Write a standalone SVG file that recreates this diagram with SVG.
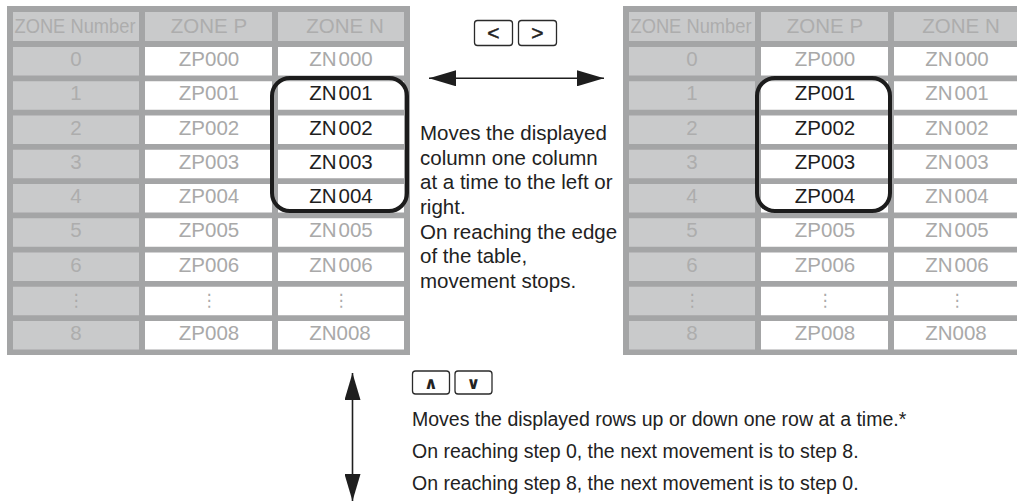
<svg xmlns="http://www.w3.org/2000/svg" width="1017" height="502" viewBox="0 0 1017 502">
<style>
  text { font-family: "Liberation Sans", Arial, sans-serif; }
  .frame { fill: #a4a5a6; }
  .cg { fill: #c9cacb; }
  .cw { fill: #ffffff; }
  .t { font-size: 20.5px; text-anchor: middle; fill: #a9a9a9; }
  .tg { font-size: 20.5px; text-anchor: middle; fill: #adadad; }
  .tk { font-size: 20.5px; text-anchor: middle; fill: #1e1e1e; }
  .dots { font-family: "DejaVu Sans", sans-serif; font-size: 17px; text-anchor: middle; fill: #a9a9a9; }
  .hl { fill: none; stroke: #1c1c1c; stroke-width: 4; }
  .key { fill: #ffffff; stroke: #2a2a2a; stroke-width: 1.3; }
  .kg { font-size: 21px; text-anchor: middle; fill: #222; stroke: #222; stroke-width: 0.5; }
  .kg2 { font-family: "DejaVu Sans", sans-serif; font-size: 17px; font-weight: bold; text-anchor: middle; fill: #222; }
  .note { font-size: 20.5px; fill: #222; }
  .note2 { font-size: 19.5px; fill: #222; }
  .arrow { fill: none; stroke: #1e1e1e; stroke-width: 1.6; }
</style>
<defs>
  <marker id="head" viewBox="0 0 27 16" refX="27" refY="8" markerWidth="27" markerHeight="16" markerUnits="userSpaceOnUse" orient="auto-start-reverse">
    <path d="M0,0 L27,8 L0,16 Z" fill="#1e1e1e"/>
  </marker>
  <g id="grid">
    <rect class="frame" x="7" y="6" width="403" height="349"/>
    <rect class="cg" x="13" y="12" width="126" height="29"/>
    <rect class="cg" x="145" y="12" width="127" height="29"/>
    <rect class="cg" x="278" y="12" width="126" height="29"/>
    <rect class="cg" x="13" y="47" width="126" height="28.5"/><rect class="cw" x="145" y="47" width="127" height="28.5"/><rect class="cw" x="278" y="47" width="126" height="28.5"/>
    <rect class="cg" x="13" y="81.25" width="126" height="28.5"/><rect class="cw" x="145" y="81.25" width="127" height="28.5"/><rect class="cw" x="278" y="81.25" width="126" height="28.5"/>
    <rect class="cg" x="13" y="115.5" width="126" height="28.5"/><rect class="cw" x="145" y="115.5" width="127" height="28.5"/><rect class="cw" x="278" y="115.5" width="126" height="28.5"/>
    <rect class="cg" x="13" y="149.75" width="126" height="28.5"/><rect class="cw" x="145" y="149.75" width="127" height="28.5"/><rect class="cw" x="278" y="149.75" width="126" height="28.5"/>
    <rect class="cg" x="13" y="184" width="126" height="28.5"/><rect class="cw" x="145" y="184" width="127" height="28.5"/><rect class="cw" x="278" y="184" width="126" height="28.5"/>
    <rect class="cg" x="13" y="218.25" width="126" height="28.5"/><rect class="cw" x="145" y="218.25" width="127" height="28.5"/><rect class="cw" x="278" y="218.25" width="126" height="28.5"/>
    <rect class="cg" x="13" y="252.5" width="126" height="28.5"/><rect class="cw" x="145" y="252.5" width="127" height="28.5"/><rect class="cw" x="278" y="252.5" width="126" height="28.5"/>
    <rect class="cg" x="13" y="286.75" width="126" height="28.5"/><rect class="cw" x="145" y="286.75" width="127" height="28.5"/><rect class="cw" x="278" y="286.75" width="126" height="28.5"/>
    <rect class="cg" x="13" y="321" width="126" height="28.5"/><rect class="cw" x="145" y="321" width="127" height="28.5"/><rect class="cw" x="278" y="321" width="126" height="28.5"/>
    <text class="tg" x="75" y="32.5" textLength="121" lengthAdjust="spacingAndGlyphs">ZONE Number</text>
    <text class="tg" x="209" y="32.5">ZONE P</text>
    <text class="tg" x="345" y="32.5">ZONE N</text>
    <text class="tg" x="76" y="66">0</text>
    <text class="tg" x="76" y="100.25">1</text>
    <text class="tg" x="76" y="134.5">2</text>
    <text class="tg" x="76" y="168.75">3</text>
    <text class="tg" x="76" y="203">4</text>
    <text class="tg" x="76" y="237.25">5</text>
    <text class="tg" x="76" y="271.5">6</text>
    <text class="dots" x="76" y="306">⋮</text>
    <text class="dots" x="209" y="306">⋮</text>
    <text class="dots" x="341" y="306">⋮</text>
    <text class="tg" x="76" y="340">8</text>
    <text class="t" x="209" y="66">ZP000</text>
    <text class="t" x="341" y="66">ZN<tspan dx="2">000</tspan></text>
    <text class="t" x="209" y="237.25">ZP005</text>
    <text class="t" x="341" y="237.25">ZN<tspan dx="2">005</tspan></text>
    <text class="t" x="209" y="271.5">ZP006</text>
    <text class="t" x="341" y="271.5">ZN<tspan dx="2">006</tspan></text>
    <text class="t" x="209" y="340">ZP008</text>
    <text class="t" x="340" y="340">ZN008</text>
  </g>
</defs>

<g id="table-left">
  <use href="#grid"/>
  <text class="t" x="209" y="100.25">ZP001</text>
  <text class="t" x="209" y="134.5">ZP002</text>
  <text class="t" x="209" y="168.75">ZP003</text>
  <text class="t" x="209" y="203">ZP004</text>
  <text class="tk" x="341" y="100.25">ZN<tspan dx="2">001</tspan></text>
  <text class="tk" x="341" y="134.5">ZN<tspan dx="2">002</tspan></text>
  <text class="tk" x="341" y="168.75">ZN<tspan dx="2">003</tspan></text>
  <text class="tk" x="341" y="203">ZN<tspan dx="2">004</tspan></text>
  <rect id="highlight-left" class="hl" x="272" y="78" width="135" height="133" rx="18"/>
</g>

<g id="table-right" transform="translate(616,0)">
  <use href="#grid"/>
  <text class="tk" x="209" y="100.25">ZP001</text>
  <text class="tk" x="209" y="134.5">ZP002</text>
  <text class="tk" x="209" y="168.75">ZP003</text>
  <text class="tk" x="209" y="203">ZP004</text>
  <text class="t" x="341" y="100.25">ZN<tspan dx="2">001</tspan></text>
  <text class="t" x="341" y="134.5">ZN<tspan dx="2">002</tspan></text>
  <text class="t" x="341" y="168.75">ZN<tspan dx="2">003</tspan></text>
  <text class="t" x="341" y="203">ZN<tspan dx="2">004</tspan></text>
  <rect id="highlight-right" class="hl" x="141" y="78" width="133" height="133" rx="18"/>
</g>

<g id="keys-left-right">
  <rect class="key" x="474.5" y="20.5" width="38" height="25" rx="3"/>
  <text class="kg" x="493.5" y="40">&lt;</text>
  <rect class="key" x="518.5" y="20.5" width="38" height="25" rx="3"/>
  <text class="kg" x="537.5" y="40">&gt;</text>
</g>

<g id="keys-up-down">
  <rect class="key" x="412.5" y="371" width="37" height="23" rx="3"/>
  <text class="kg2" x="431" y="389">∧</text>
  <rect class="key" x="455" y="371" width="37" height="23" rx="3"/>
  <text class="kg2" x="473.5" y="389">∨</text>
</g>

<g id="note-columns">
  <text class="note" x="420" y="140">Moves the displayed</text>
  <text class="note" x="420" y="164.7">column one column</text>
  <text class="note" x="420" y="189.4">at a time to the left or</text>
  <text class="note" x="420" y="214">right.</text>
  <text class="note" x="420" y="238.7">On reaching the edge</text>
  <text class="note" x="420" y="263.4">of the table,</text>
  <text class="note" x="420" y="288">movement stops.</text>
</g>

<g id="note-rows">
  <text class="note2" x="412" y="426">Moves the displayed rows up or down one row at a time.*</text>
  <text class="note2" x="412" y="458">On reaching step 0, the next movement is to step 8.</text>
  <text class="note2" x="412" y="490">On reaching step 8, the next movement is to step 0.</text>
</g>

<g id="connectors">
  <path class="arrow" d="M429,78.3 H604" marker-start="url(#head)" marker-end="url(#head)"/>
  <path class="arrow" d="M352.5,373 V501" marker-start="url(#head)" marker-end="url(#head)"/>
</g>
</svg>
